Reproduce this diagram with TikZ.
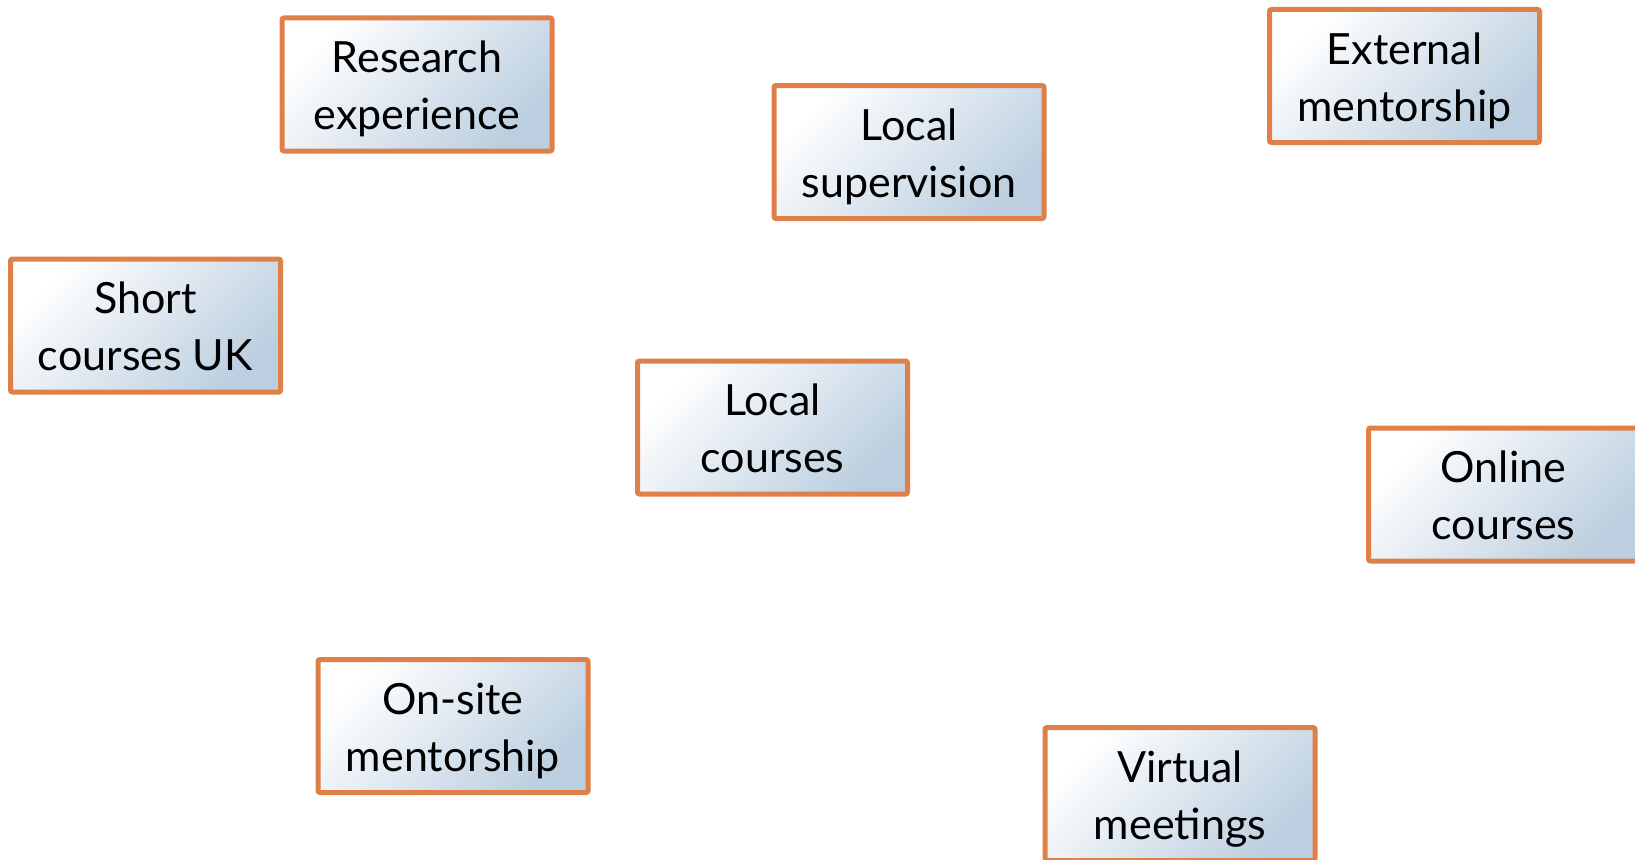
\documentclass[tikz,border=0pt]{standalone}
\usepackage{fontspec}
\setmainfont{Lato}
\definecolor{boxedge}{RGB}{222,128,72}
\definecolor{boxblue}{RGB}{188,207,224}
\newcommand{\twolines}[2]{\raisebox{-11.5pt}[0pt][0pt]{\begin{tabular}{@{}c@{}}#1\\#2\end{tabular}}}
\tikzset{
  itembox/.style={draw=boxedge, line width=5pt, rounded corners=2pt,
    minimum width=270pt, minimum height=133pt,
    shading=axis, top color=white, bottom color=boxblue, shading angle=45,
    font=\fontsize{43}{57}\selectfont, inner sep=0pt}
}
\begin{document}
\begin{tikzpicture}[x=1pt,y=-1pt]
\useasboundingbox (0,0) rectangle (1635,859);
\node[itembox] (research) at (417,84.5) {\twolines{Research}{experience}};
\node[itembox] (locsup) at (909,152) {\twolines{Local}{supervision}};
\node[itembox] (extment) at (1404.5,76) {\twolines{External}{mentorship}};
\node[itembox] (shortuk) at (145.5,325.5) {\twolines{Short}{courses UK}};
\node[itembox] (loccourses) at (772.5,427.5) {\twolines{Local}{courses}};
\node[itembox] (online) at (1503.5,494.5) {\twolines{Online}{courses}};
\node[itembox] (onsite) at (453,726) {\twolines{On-site}{mentorship}};
\node[itembox] (virtual) at (1180,794) {\twolines{Virtual}{meetings}};
\end{tikzpicture}
\end{document}
